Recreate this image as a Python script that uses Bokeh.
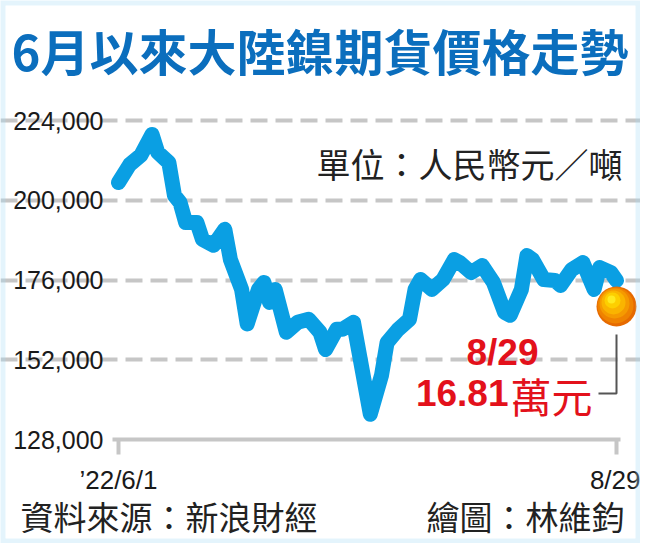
from bokeh.plotting import figure
from bokeh.models import (FixedTicker, NumeralTickFormatter, Label, BoxAnnotation, Range1d,
                          LinearAxis, Grid)
from bokeh.embed import file_html
from bokeh.resources import INLINE

# ---------------- data ----------------
title_text = "6月以來大陸鎳期貨價格走勢"
unit_text = "單位：人民幣元／噸"
source_text = "資料來源：新浪財經"
credit_text = "繪圖：林維鈞"

# days since 2022-06-01
days = [0, 2, 4, 6, 7, 9, 10, 11, 12, 14,
        15, 17, 19, 20, 22, 23, 25, 26, 27, 28,
        30, 32, 34, 36, 37, 39, 40, 42, 45, 47,
        48, 50, 52, 53, 54, 56, 58, 60, 61, 63,
        65, 67, 69, 70, 72, 73, 74, 76, 78, 79,
        81, 83, 85, 86, 88, 89]
prices = [205400, 210800, 213600, 219900, 214500, 211400, 201500, 199400, 193400, 193400,
          188300, 186500, 191300, 182200, 173200, 162800, 173200, 175300, 169300, 173200,
          160300, 163300, 164200, 160300, 155100, 161200, 161200, 163300, 135600, 147300,
          157200, 161200, 164200, 173200, 176200, 173200, 176200, 182200, 181300, 178300,
          180400, 175300, 166300, 165400, 173200, 183400, 182200, 176200, 175900, 174400,
          179200, 181300, 173200, 179800, 178300, 175900]

last_value = 168100
last_date_text = "8/29"
last_value_num = "16.81"
last_value_unit = "萬元"

x_ticks = [0, 89]
x_tick_labels = ["’22/6/1", "8/29"]
y_ticks = [128000, 152000, 176000, 200000, 224000]

# ---------------- geometry (page pixels) ----------------
W, H = 640, 543
OFF = 8
# anchors: day 0 -> x 126, day 89 -> x 624 ; 128000 -> y 447, 224000 -> y 128.3
XPP = 89 / (624 - 126)                   # days per pixel
YPP = (224000 - 128000) / (447 - 128.3)  # value per pixel


def dx(px):
    return (px - 126) * XPP


def dy(py):
    return 128000 + (447 - py) * YPP


p = figure(width=W, height=H, title=None,
           x_range=Range1d(dx(OFF), dx(OFF + W)), y_range=Range1d(dy(OFF + H), dy(OFF)),
           x_axis_location=None, y_axis_location=None,
           output_backend="svg", toolbar_location=None,
           min_border_left=0, min_border_right=0, min_border_top=0, min_border_bottom=0)
p.outline_line_color = None
p.background_fill_color = "white"
p.border_fill_color = "white"
p.grid.visible = False

grey = "#c6c6c6"
sans = "Liberation Sans"
cjk = "Noto Sans CJK TC"

ya = LinearAxis(fixed_location=dx(118))
ya.ticker = FixedTicker(ticks=y_ticks)
ya.formatter = NumeralTickFormatter(format="0,0")
ya.axis_line_color = None
ya.major_tick_line_color = None
ya.minor_tick_line_color = None
ya.major_tick_out = 0
ya.major_tick_in = 0
ya.major_label_standoff = 7
ya.major_label_text_font = sans
ya.major_label_text_font_size = "25px"
ya.major_label_text_color = "#1a1a1a"
p.add_layout(ya, "left")

xa = LinearAxis(fixed_location=128000, bounds=(dx(120), dx(628)))
xa.ticker = FixedTicker(ticks=x_ticks)
xa.major_label_overrides = {t: l for t, l in zip(x_ticks, x_tick_labels)}
xa.axis_line_color = grey
xa.axis_line_width = 4
xa.major_tick_line_color = grey
xa.major_tick_line_width = 4
xa.major_tick_out = 15
xa.major_tick_in = 0
xa.minor_tick_line_color = None
xa.major_label_standoff = 10
xa.major_label_text_font = sans
xa.major_label_text_font_size = "26px"
xa.major_label_text_color = "#1a1a1a"
p.add_layout(xa, "below")

p.add_layout(Grid(dimension=1, ticker=FixedTicker(ticks=y_ticks[1:]),
                  bounds=(dx(118), dx(632)), grid_line_color=grey,
                  grid_line_width=4, grid_line_dash="17 8"))

# price line
p.line(days, prices, line_width=15, line_color="#0a9fe3", line_join="round", line_cap="round")

# leader line from the ball
bx, by = days[-1], last_value
p.line([bx, bx, bx - 18 * XPP], [by - 28 * YPP, by - 87 * YPP, by - 87 * YPP],
       line_color="#555555", line_width=2)

# orange ball (layered circles as a gradient)
ball_layers = [(20, 0, 0, "#e66a00"), (18, -1, -1, "#ef8200"), (15, -2, -3, "#f59a00"),
               (12, -3, -4, "#fab400"), (8, -4, -6, "#fdcf00"), (4, -5, -7, "#ffea20")]
for r, ox, oy, c in ball_layers:
    p.scatter([bx + ox * XPP], [by - oy * YPP], size=2 * r, fill_color=c, line_color=None)

# texts
p.add_layout(Label(x=dx(19), y=dy(57), text=title_text, text_font=cjk,
                   text_font_style="bold", text_font_size="49px", text_color="#0b6ebd",
                   text_baseline="middle", text_align="left"))
p.add_layout(Label(x=dx(630), y=dy(171), text=unit_text, text_font=cjk,
                   text_font_size="34px", text_color="#222222",
                   text_baseline="middle", text_align="right"))
p.add_layout(Label(x=dx(510), y=dy(360), text=last_date_text, text_font=sans,
                   text_font_style="bold", text_font_size="37px", text_color="#e3111b",
                   text_baseline="middle", text_align="center"))
p.add_layout(Label(x=dx(516), y=dy(400), text=last_value_num, text_font=sans,
                   text_font_style="bold", text_font_size="37px", text_color="#e3111b",
                   text_baseline="middle", text_align="right"))
p.add_layout(Label(x=dx(518), y=dy(402), text=last_value_unit, text_font=cjk,
                   text_font_size="41px", text_color="#e3111b",
                   text_baseline="middle", text_align="left"))
p.add_layout(Label(x=dx(28), y=dy(523), text=source_text, text_font=cjk,
                   text_font_size="33px", text_color="#222222",
                   text_baseline="middle", text_align="left"))
p.add_layout(Label(x=dx(632), y=dy(523), text=credit_text, text_font=cjk,
                   text_font_size="33px", text_color="#222222",
                   text_baseline="middle", text_align="right"))

# light blue frame
p.add_layout(BoxAnnotation(left=dx(OFF), right=dx(OFF + W), top=dy(OFF), bottom=dy(OFF + H),
                           fill_alpha=0, line_color="#a5d9f4", line_width=10))

open("out.html", "w").write(file_html(p, INLINE))
